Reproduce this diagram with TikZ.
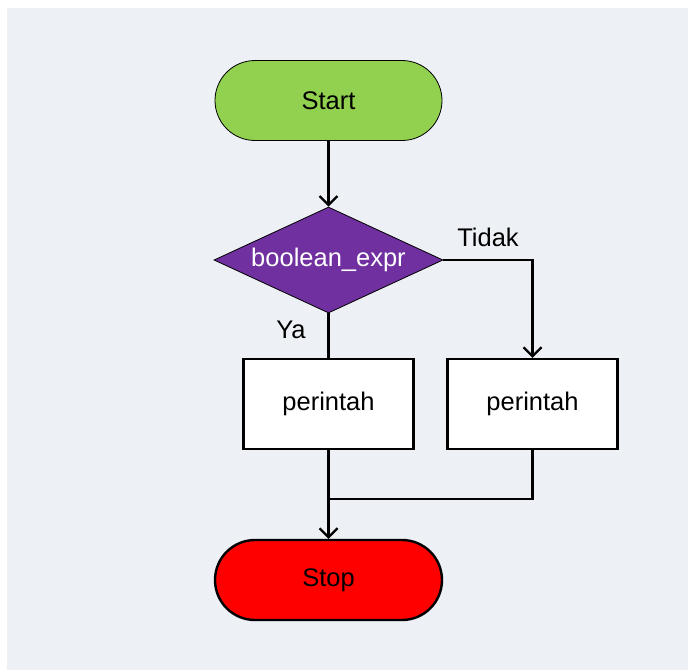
\documentclass[tikz,border=0pt]{standalone}
\usepackage{fontspec}
\setmainfont{Liberation Sans}
\usetikzlibrary{shapes.geometric,arrows.meta}
\definecolor{bgc}{HTML}{EDF0F5}
\definecolor{startc}{HTML}{92D050}
\definecolor{decc}{HTML}{7030A0}
\definecolor{stopc}{HTML}{FF0000}
\tikzset{
  terminal/.style={rectangle, rounded corners=40pt, minimum width=227pt, minimum height=80pt, inner sep=0pt, font=\fontsize{25.5}{29}\selectfont},
  decision/.style={diamond, shape aspect=2.16, fill=decc, draw=black, line width=0.8pt, minimum width=229pt, minimum height=106pt, inner sep=0pt, text=white, font=\fontsize{25.5}{29}\selectfont},
  procbox/.style={rectangle, fill=white, draw=black, line width=2.4pt, minimum width=170pt, minimum height=90pt, inner sep=0pt, font=\fontsize{25.5}{29}\selectfont},
  conn/.style={line width=2.4pt, draw=black},
  arr/.style={conn, -{Straight Barb[length=9pt, width=18pt, line width=2.2pt]}},
  lbl/.style={font=\fontsize{25.5}{29}\selectfont, inner sep=0pt}
}
\begin{document}
\begin{tikzpicture}[x=1pt, y=-1pt]
\useasboundingbox (0,0) rectangle (688,670);
\fill[bgc] (7,8) rectangle (688,670);
\node[terminal, fill=startc, draw=black, line width=0.8pt] (start) at (328.5,100.5) {Start};
\node[decision] (dec) at (328.5,260) {boolean\_expr};
\node[procbox] (p1) at (328.5,404) {perintah};
\node[procbox] (p2) at (532.5,404) {perintah};
\node[terminal, fill=stopc, draw=black, line width=2.4pt] (stop) at (328.5,580) {Stop};
\coordinate (join) at (328.5,499);
\node[lbl] (tidak) at (488,237) {Tidak};
\node[lbl] (ya) at (291,330) {Ya};
\draw[arr] (start.south) -- (dec.north);
\draw[conn] (dec.south) -- (p1.north);
\draw[arr] (dec.east) -| (p2.north);
\draw[arr] (p1.south) -- (stop.north);
\draw[conn] (p2.south) |- (join);
\end{tikzpicture}
\end{document}
